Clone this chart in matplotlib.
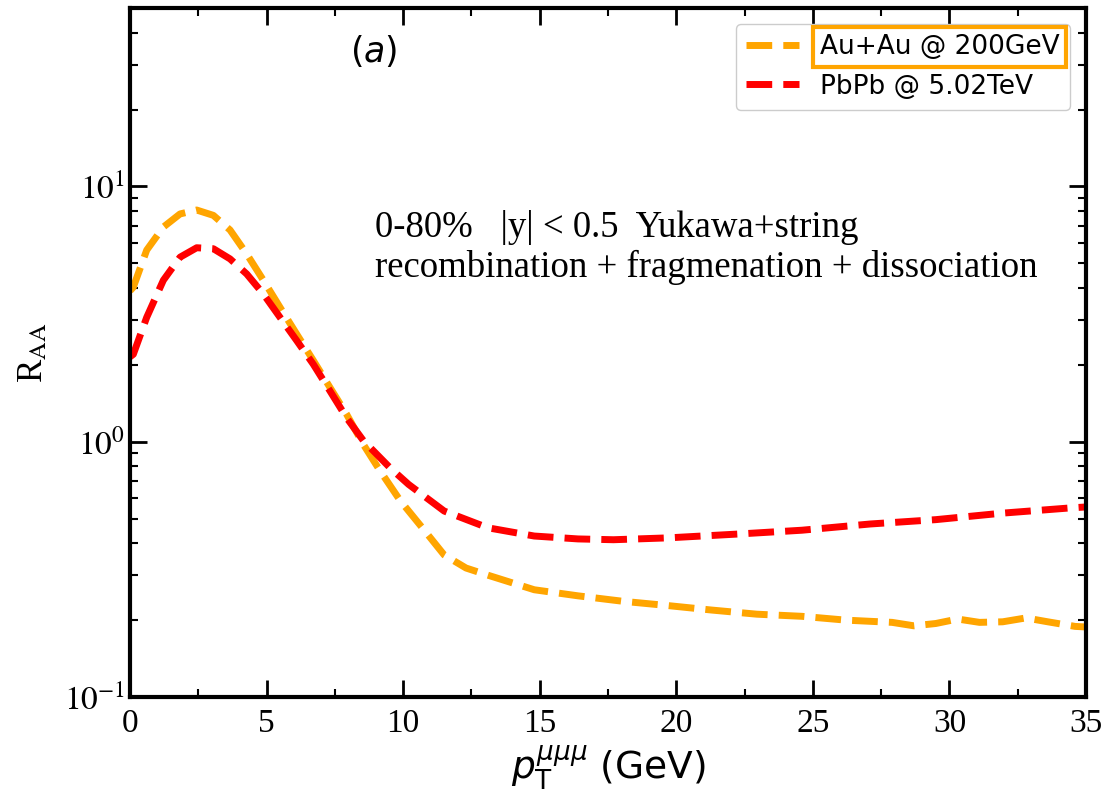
import numpy as np
import matplotlib
matplotlib.use('Agg')
import matplotlib.pyplot as plt
from matplotlib.ticker import LogLocator, FixedLocator, MultipleLocator, NullFormatter

plt.rcParams['font.family'] = ['Liberation Serif', 'DejaVu Serif']
plt.rcParams['mathtext.fontset'] = 'stix'

# Au+Au @ 200 GeV (orange)
pt_au = [0.0, 0.12, 0.61, 1.22, 1.83, 2.44, 3.05, 3.66, 4.27, 4.88, 5.49, 6.1, 6.71,
         7.32, 7.93, 8.54, 9.15, 9.9, 10.7, 11.5, 12.3, 13.1, 14.8, 16.4, 18.05,
         19.7, 21.3, 22.95, 24.6, 26.2, 27.9, 28.7, 29.5, 30.3, 31.1, 31.95, 32.8,
         33.6, 34.6, 35.0]
raa_au = [3.9, 4.03, 5.63, 6.93, 7.8, 8.08, 7.7, 6.75, 5.44, 4.29, 3.36, 2.64, 2.08,
          1.63, 1.28, 0.976, 0.77, 0.586, 0.46, 0.36, 0.32, 0.30, 0.263, 0.249, 0.237,
          0.228, 0.219, 0.211, 0.207, 0.20, 0.196, 0.19, 0.194, 0.202, 0.196, 0.197,
          0.204, 0.197, 0.189, 0.188]

# PbPb @ 5.02 TeV (red)
pt_pb = [0.0, 0.12, 0.61, 1.22, 1.83, 2.44, 3.05, 3.66, 4.27, 4.88, 5.49, 6.1, 6.71,
         7.32, 7.93, 8.54, 9.52, 10.2, 11.5, 13.1, 14.8, 16.4, 17.7, 19.7, 22.3,
         24.6, 27.1, 29.5, 31.95, 34.4, 35.0]
raa_pb = [2.15, 2.2, 3.07, 4.29, 5.28, 5.75, 5.7, 5.2, 4.54, 3.79, 3.07, 2.49, 2.01,
          1.58, 1.24, 1.01, 0.79, 0.68, 0.535, 0.46, 0.427, 0.416, 0.413, 0.42, 0.435,
          0.45, 0.476, 0.495, 0.525, 0.55, 0.555]

labels = ['Au+Au @ 200GeV', 'PbPb @ 5.02TeV']
colors = ['orange', 'red']

fig = plt.figure(figsize=(11.04, 7.95), dpi=100)
ax = fig.add_axes([0.1178, 0.1233, 0.8659, 0.8667])

ax.plot(pt_au, raa_au, ls='--', lw=5, color=colors[0], label=labels[0])
ax.plot(pt_pb, raa_pb, ls='--', lw=5, color=colors[1], label=labels[1])

ax.set_yscale('log')
ax.set_xlim(0, 35)
ax.set_ylim(0.1, 50)

ax.xaxis.set_major_locator(MultipleLocator(5))
ax.xaxis.set_minor_locator(MultipleLocator(2.5))
ax.yaxis.set_major_locator(FixedLocator([0.1, 1, 10]))
ax.set_yticklabels([r'$10^{-1}$', r'$10^{0}$', r'$10^{1}$'])
ax.yaxis.set_minor_locator(LogLocator(base=10, subs=np.arange(2, 10)))
ax.yaxis.set_minor_formatter(NullFormatter())

ax.tick_params(which='both', direction='in', top=True, right=True, labelsize=24)
ax.tick_params(which='major', length=12, width=2)
ax.tick_params(which='minor', length=6, width=1.5)
ax.tick_params(axis='x', pad=8)
for s in ax.spines.values():
    s.set_linewidth(3)

ax.set_xlabel(r'$p_{\mathrm{T}}^{\mu\mu\mu}$ (GeV)', fontsize=27,
              family='DejaVu Sans', math_fontfamily='dejavusans', labelpad=4)
ax.set_ylabel(r'R$_{\rm AA}$', fontsize=25, labelpad=10)

ax.text(0.255, 0.936, r'$(a)$', transform=ax.transAxes, ha='center', va='center',
        fontsize=25, math_fontfamily='dejavusans')
ax.text(0.256, 0.681, r'0-80%   |y| < 0.5  Yukawa+string', transform=ax.transAxes,
        ha='left', va='center', fontsize=26.5)
ax.text(0.256, 0.623, r'recombination + fragmenation + dissociation',
        transform=ax.transAxes, ha='left', va='center', fontsize=26.5)

leg = ax.legend(loc='upper right', prop={'family': 'DejaVu Sans', 'size': 19},
                borderaxespad=0.6, framealpha=1.0)
leg.get_texts()[0].set_bbox(dict(facecolor='none', edgecolor='orange', lw=3, pad=5))

plt.savefig('out.png', dpi=100)
